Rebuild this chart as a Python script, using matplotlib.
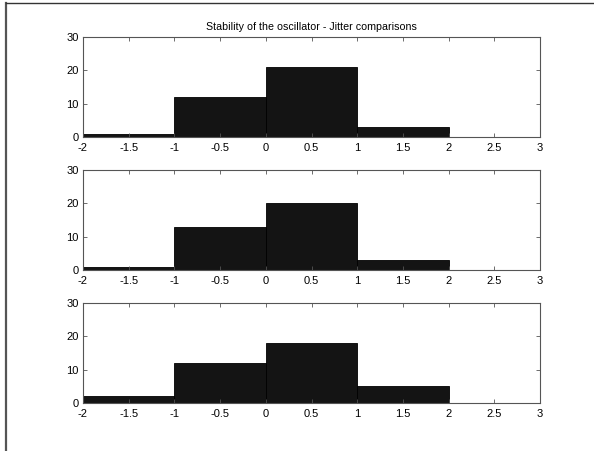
import matplotlib
matplotlib.use("Agg")
import matplotlib.pyplot as plt
from matplotlib.lines import Line2D

plt.rcParams['font.family'] = ['Liberation Sans', 'DejaVu Sans']

bin_edges = [-2, -1, 0, 1, 2]
counts_top = [1, 12, 21, 3]
counts_mid = [1, 13, 20, 3]
counts_bot = [2, 12, 18, 5]
x_ticks = [-2, -1.5, -1, -0.5, 0, 0.5, 1, 1.5, 2, 2.5, 3]
x_labels = ['-2', '-1.5', '-1', '-0.5', '0', '0.5', '1', '1.5', '2', '2.5', '3']
y_ticks = [0, 10, 20, 30]
title = "Stability of the oscillator - Jitter comparisons"

W, H = 594, 451
fig = plt.figure(figsize=(W / 100, H / 100), dpi=100)

left = 83 / W
width = 457 / W
height = 100 / H
bottoms = [1 - 137 / H, 1 - 270 / H, 1 - 403 / H]
series = [counts_top, counts_mid, counts_bot]

for i, (b, counts) in enumerate(zip(bottoms, series)):
    ax = fig.add_axes([left, b, width, height])
    widths = [bin_edges[k + 1] - bin_edges[k] for k in range(len(counts))]
    ax.bar(bin_edges[:-1], counts, width=widths, align='edge',
           color='#141414', edgecolor='#000000', linewidth=0.6)
    ax.set_xlim(-2, 3)
    ax.set_ylim(0, 30)
    ax.set_xticks(x_ticks)
    ax.set_xticklabels(x_labels)
    ax.set_yticks(y_ticks)
    ax.tick_params(direction='in', top=True, right=True, length=3,
                   width=0.6, color='#555555', labelsize=8)
    ax.tick_params(axis='x', pad=4)
    ax.tick_params(axis='y', pad=3)
    for sp in ax.spines.values():
        sp.set_color('#555555')
        sp.set_linewidth(0.8)
    if i == 0:
        ax.set_title(title, fontsize=7.7, pad=5)

# figure border (left and top)
fig.add_artist(Line2D([5.5 / W, 5.5 / W], [0, 1 - 2.5 / H], transform=fig.transFigure,
                      color='#555555', linewidth=1.6))
fig.add_artist(Line2D([5.5 / W, 1], [1 - 2.5 / H, 1 - 2.5 / H], transform=fig.transFigure,
                      color='#333333', linewidth=1.0))

fig.savefig("out.png", dpi=100)
